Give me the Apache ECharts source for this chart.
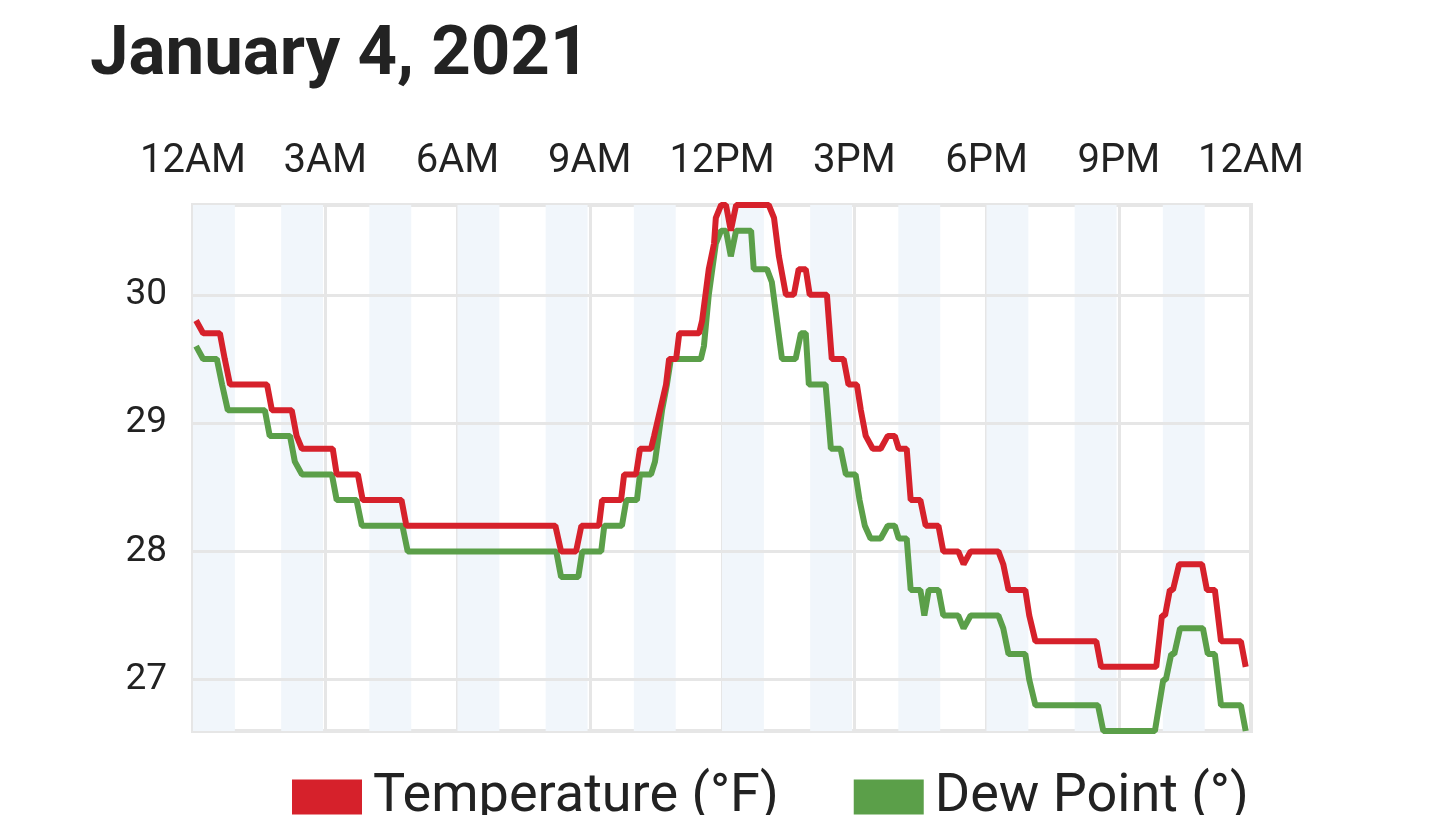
<!DOCTYPE html>
<html>
<head>
<meta charset="utf-8">
<title>January 4, 2021</title>
<script src="https://cdn.jsdelivr.net/npm/echarts@6/dist/echarts.min.js"></script>
<style>
  html, body { margin: 0; padding: 0; background: #fff; }
  #chart { width: 1440px; height: 815px; }
</style>
</head>
<body>
<div id="chart"></div>
<script>
// time of day in hours
var tickLabels = ['12AM', '3AM', '6AM', '9AM', '12PM', '3PM', '6PM', '9PM', '12AM'];
var yLabels = [27, 28, 29, 30];
var shadedHours = [0, 2, 4, 6, 8, 10, 12, 14, 16, 18, 20, 22];

var tempHours = [0.07, 0.23, 0.61, 0.72, 0.84, 1.68, 1.79, 2.24, 2.35, 2.47, 3.17, 3.26, 3.74, 3.85, 4.73, 4.84,
  8.22, 8.35, 8.69, 8.81, 9.21, 9.28, 9.71, 9.78, 10.05, 10.14, 10.39, 10.46, 10.73, 10.80, 10.96, 11.03,
  11.48, 11.55, 11.70, 11.82, 11.86, 11.98, 12.09, 12.20, 12.32, 13.06, 13.18, 13.29, 13.45, 13.63, 13.74,
  13.90, 13.99, 14.38, 14.49, 14.76, 14.87, 15.06, 15.15, 15.26, 15.42, 15.60, 15.76, 15.92, 16.01, 16.19,
  16.28, 16.50, 16.62, 16.91, 17.02, 17.36, 17.48, 17.64, 18.27, 18.38, 18.50, 18.88, 18.97, 19.11, 20.49,
  20.60, 21.85, 21.98, 22.05, 22.16, 22.23, 22.37, 22.89, 23.00, 23.18, 23.32, 23.77, 23.88];
var tempValues = [29.8, 29.7, 29.7, 29.5, 29.3, 29.3, 29.1, 29.1, 28.9, 28.8, 28.8, 28.6, 28.6, 28.4, 28.4, 28.2,
  28.2, 28.0, 28.0, 28.2, 28.2, 28.4, 28.4, 28.6, 28.6, 28.8, 28.8, 28.9, 29.3, 29.5, 29.5, 29.7,
  29.7, 29.8, 30.2, 30.4, 30.6, 30.7, 30.7, 30.5, 30.7, 30.7, 30.6, 30.3, 30.0, 30.0, 30.2,
  30.2, 30.0, 30.0, 29.5, 29.5, 29.3, 29.3, 29.1, 28.9, 28.8, 28.8, 28.9, 28.9, 28.8, 28.8,
  28.4, 28.4, 28.2, 28.2, 28.0, 28.0, 27.9, 28.0, 28.0, 27.9, 27.7, 27.7, 27.5, 27.3, 27.3,
  27.1, 27.1, 27.5, 27.5, 27.7, 27.7, 27.9, 27.9, 27.7, 27.7, 27.3, 27.3, 27.1];

var dewHours = [0.07, 0.23, 0.54, 0.66, 0.79, 1.63, 1.74, 2.20, 2.31, 2.47, 3.15, 3.26, 3.71, 3.83, 4.75, 4.87,
  8.24, 8.35, 8.74, 8.83, 9.26, 9.33, 9.73, 9.83, 10.07, 10.14, 10.39, 10.48, 10.64, 10.75, 10.84, 11.52,
  11.59, 11.70, 11.86, 11.98, 12.09, 12.20, 12.32, 12.66, 12.72, 13.02, 13.13, 13.36, 13.67, 13.79, 13.90,
  13.97, 14.35, 14.47, 14.69, 14.81, 15.03, 15.12, 15.24, 15.37, 15.60, 15.76, 15.92, 16.01, 16.19, 16.28,
  16.50, 16.59, 16.69, 16.91, 17.02, 17.36, 17.48, 17.64, 18.27, 18.38, 18.50, 18.88, 18.97, 19.11, 20.53,
  20.65, 21.82, 22.01, 22.07, 22.19, 22.26, 22.39, 22.91, 23.02, 23.18, 23.32, 23.77, 23.88];
var dewValues = [29.6, 29.5, 29.5, 29.3, 29.1, 29.1, 28.9, 28.9, 28.7, 28.6, 28.6, 28.4, 28.4, 28.2, 28.2, 28.0,
  28.0, 27.8, 27.8, 28.0, 28.0, 28.2, 28.2, 28.4, 28.4, 28.6, 28.6, 28.7, 29.1, 29.3, 29.5, 29.5,
  29.6, 30.0, 30.4, 30.5, 30.5, 30.3, 30.5, 30.5, 30.2, 30.2, 30.1, 29.5, 29.5, 29.7, 29.7,
  29.3, 29.3, 28.8, 28.8, 28.6, 28.6, 28.4, 28.2, 28.1, 28.1, 28.2, 28.2, 28.1, 28.1, 27.7,
  27.7, 27.5, 27.7, 27.7, 27.5, 27.5, 27.4, 27.5, 27.5, 27.4, 27.2, 27.2, 27.0, 26.8, 26.8,
  26.6, 26.6, 27.0, 27.0, 27.2, 27.2, 27.4, 27.4, 27.2, 27.2, 26.8, 26.8, 26.6];

function pairs(xs, ys) {
  return xs.map(function (x, i) { return [x, ys[i]]; });
}

var chart = echarts.init(document.getElementById('chart'));
var font = 'Roboto, "Noto Sans", sans-serif';

var option = {
  animation: false,
  backgroundColor: '#fff',
  title: {
    text: 'January 4, 2021',
    left: 85,
    top: 17,
    textStyle: { fontFamily: font, fontSize: 69, fontWeight: 'bold', color: '#222' }
  },
  legend: {
    data: ['Temperature (°F)', 'Dew Point (°)'],
    left: 287,
    top: 765,
    icon: 'rect',
    itemWidth: 70,
    itemHeight: 35,
    itemGap: 75,
    textStyle: { fontFamily: font, fontSize: 54, color: '#222', padding: [0, 0, 0, 6] }
  },
  grid: {
    left: 193,
    right: 189,
    top: 205,
    bottom: 84,
    show: true,
    borderColor: '#e6e6e6',
    borderWidth: 4
  },
  xAxis: {
    type: 'value',
    position: 'top',
    min: 0,
    max: 24,
    interval: 3,
    axisLine: { show: false },
    axisTick: { show: false },
    axisLabel: {
      showMinLabel: true,
      showMaxLabel: true,
      margin: 23,
      fontFamily: font,
      fontSize: 40,
      color: '#222',
      formatter: function (v) { return tickLabels[Math.round(v / 3)]; }
    },
    splitLine: { show: true, lineStyle: { color: '#e6e6e6', width: 3 } }
  },
  yAxis: {
    type: 'value',
    min: 26.6,
    max: 30.7,
    axisLine: { show: false },
    axisTick: { show: false },
    axisLabel: {
      customValues: yLabels,
      margin: 26,
      fontFamily: font,
      fontSize: 37,
      color: '#222'
    },
    splitLine: { show: false }
  },
  series: [
    {
      name: 'background',
      type: 'line',
      data: [],
      silent: true,
      z: 0,
      markArea: {
        silent: true,
        z: 0,
        itemStyle: { color: '#f1f6fb' },
        data: shadedHours.map(function (h) { return [{ xAxis: h }, { xAxis: h + 0.95 }]; })
      },
      markLine: {
        silent: true,
        z: 1,
        symbol: ['none', 'none'],
        label: { show: false },
        lineStyle: { color: '#e6e6e6', width: 3, type: 'solid' },
        data: yLabels.map(function (v) { return { yAxis: v }; })
      }
    },
    {
      name: 'Temperature (°F)',
      type: 'line',
      data: pairs(tempHours, tempValues),
      showSymbol: false,
      color: '#d6212b',
      lineStyle: { width: 6, color: '#d6212b' },
      z: 3
    },
    {
      name: 'Dew Point (°)',
      type: 'line',
      data: pairs(dewHours, dewValues),
      showSymbol: false,
      color: '#5b9f49',
      lineStyle: { width: 6, color: '#5b9f49' },
      z: 2
    }
  ]
};
chart.setOption(option);
</script>
</body>
</html>
